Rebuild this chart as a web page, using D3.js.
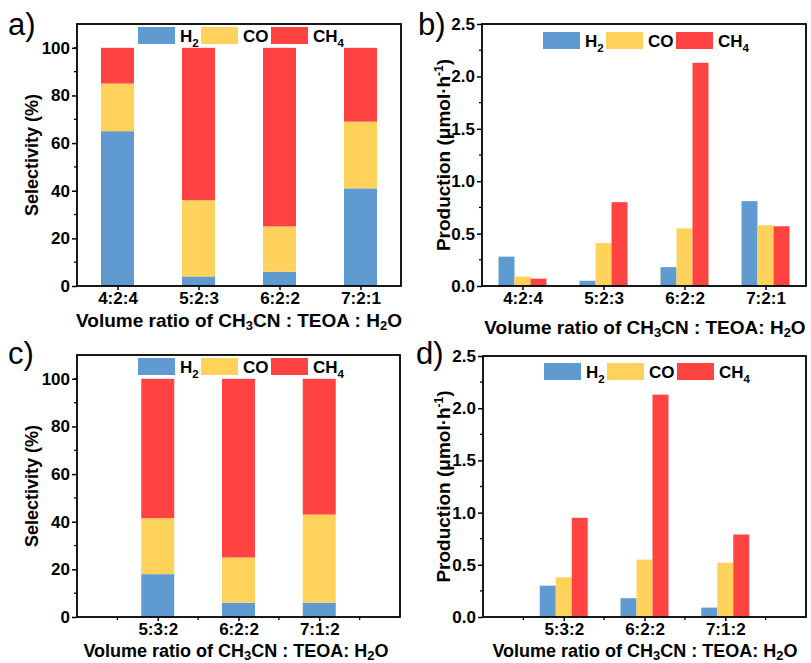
<!DOCTYPE html>
<html>
<head>
<meta charset="utf-8">
<script src="https://cdn.jsdelivr.net/npm/d3@7"></script>
<style>
  body { margin: 0; background: #fff; }
  svg { font-family: "Liberation Sans", Arial, sans-serif; }
</style>
</head>
<body>
<div id="chart"></div>
<script>
// Series (gas products) and their colours
const gases = ["H2", "CO", "CH4"];
const gasColors = ["#5f9bd0", "#ffd35b", "#ff4242"];

// a) / b) volume ratios
const ratiosAB = ["4:2:4", "5:2:3", "6:2:2", "7:2:1"];
const selH2_a  = [65, 4, 6, 41];
const selCO_a  = [20, 32, 19, 28];
const selCH4_a = [15, 64, 75, 31];
const prodH2_b  = [0.28, 0.05, 0.18, 0.81];
const prodCO_b  = [0.09, 0.41, 0.55, 0.58];
const prodCH4_b = [0.07, 0.80, 2.13, 0.57];

// c) / d) volume ratios
const ratiosCD = ["5:3:2", "6:2:2", "7:1:2"];
const selH2_c  = [18, 6, 6];
const selCO_c  = [23.5, 19, 37];
const selCH4_c = [58.5, 75, 57];
const prodH2_d  = [0.30, 0.18, 0.09];
const prodCO_d  = [0.38, 0.55, 0.52];
const prodCH4_d = [0.95, 2.13, 0.79];

// axis ticks
const selTicks = [0, 20, 40, 60, 80, 100];
const prodTicks = [0, 0.5, 1.0, 1.5, 2.0, 2.5];

const svg = d3.select("#chart").append("svg")
    .attr("width", 811)
    .attr("height", 663);

// writes "CH4" style labels with subscripts
function subText(sel, str, size) {
    const parts = str.split(/(\d)/).filter(s => s !== "");
    let sub = false;
    parts.forEach(p => {
        const isNum = /\d/.test(p);
        sel.append("tspan")
            .attr("dy", isNum && !sub ? 5 : (!isNum && sub ? -5 : 0))
            .style("font-size", isNum ? (size * 0.68) + "px" : null)
            .text(p);
        sub = isNum;
    });
}

function drawPanel(cfg) {
    const g = svg.append("g");
    const x = d3.scaleLinear().domain(cfg.xDomain).range([cfg.left, cfg.right]);
    const y = d3.scaleLinear().domain([0, cfg.yMax]).range([cfg.bottom, cfg.top]);
    const series = cfg.series;

    // bars
    if (cfg.stacked) {
        const bw = 33;
        cfg.cats.forEach((c, i) => {
            let base = 0;
            series.forEach((s, k) => {
                g.append("rect")
                    .attr("x", x(i + 1) - bw / 2)
                    .attr("width", bw)
                    .attr("y", y(base + s[i]))
                    .attr("height", y(base) - y(base + s[i]))
                    .attr("fill", gasColors[k]);
                base += s[i];
            });
        });
    } else {
        const bw = 16;
        cfg.cats.forEach((c, i) => {
            series.forEach((s, k) => {
                g.append("rect")
                    .attr("x", x(i + 1) - bw * 1.5 + k * bw)
                    .attr("width", bw)
                    .attr("y", y(s[i]))
                    .attr("height", y(0) - y(s[i]))
                    .attr("fill", gasColors[k]);
            });
        });
    }

    // y axis
    const yAxis = g.append("g")
        .attr("transform", `translate(${cfg.left},0)`)
        .call(d3.axisLeft(y).tickValues(cfg.yTicks).tickSize(5).tickPadding(2)
            .tickFormat(cfg.yFormat));
    yAxis.select(".domain").remove();
    yAxis.selectAll("line").attr("stroke-width", 1.5);
    yAxis.selectAll("text").style("font-size", "17px").style("font-weight", "bold").attr("fill", "#000");

    const minorY = cfg.yTicks.slice(0, -1).map((t, i) => (t + cfg.yTicks[i + 1]) / 2);
    if (cfg.yTicks[cfg.yTicks.length - 1] < cfg.yMax) minorY.push(cfg.yMax - (cfg.yTicks[1] - cfg.yTicks[0]) / 2);
    g.selectAll(null).data(minorY).enter().append("line")
        .attr("x1", cfg.left - 3).attr("x2", cfg.left)
        .attr("y1", d => y(d)).attr("y2", d => y(d))
        .attr("stroke", "#000").attr("stroke-width", 1.3);

    // x axis
    const xAxis = g.append("g")
        .attr("transform", `translate(0,${cfg.bottom})`)
        .call(d3.axisBottom(x).tickValues(cfg.cats.map((c, i) => i + 1)).tickSize(4).tickPadding(2)
            .tickFormat((d, i) => cfg.cats[i]));
    xAxis.select(".domain").remove();
    xAxis.selectAll("line").attr("stroke-width", 1.5);
    xAxis.selectAll("text").style("font-size", "17px").style("font-weight", "bold").attr("fill", "#000");

    const minorX = d3.range(cfg.xDomain[0] + 0.5, cfg.xDomain[1], 1).filter(v => v % 1 !== 0);
    g.selectAll(null).data(minorX).enter().append("line")
        .attr("x1", d => x(d)).attr("x2", d => x(d))
        .attr("y1", cfg.bottom).attr("y2", cfg.bottom + 3)
        .attr("stroke", "#000").attr("stroke-width", 1.3);

    // frame
    g.append("rect")
        .attr("x", cfg.left).attr("y", cfg.top)
        .attr("width", cfg.right - cfg.left).attr("height", cfg.bottom - cfg.top)
        .attr("fill", "none").attr("stroke", "#000").attr("stroke-width", 1.8);

    // legend
    const lx = [61, 124, 194];
    gases.forEach((name, k) => {
        g.append("rect")
            .attr("x", cfg.left + lx[k]).attr("y", cfg.top + cfg.legendDy)
            .attr("width", 37).attr("height", 17)
            .attr("fill", gasColors[k]);
        const t = g.append("text")
            .attr("x", cfg.left + lx[k] + 42).attr("y", cfg.top + cfg.legendDy + 15)
            .style("font-size", "17px").style("font-weight", "bold");
        subText(t, name, 17);
    });

    // panel letter
    g.append("text")
        .attr("x", cfg.labelX).attr("y", cfg.labelY)
        .style("font-size", "31px")
        .text(cfg.label);

    // y title
    const yt = g.append("text")
        .attr("transform", `translate(${cfg.yTitleX},${(cfg.top + cfg.bottom) / 2}) rotate(-90)`)
        .attr("text-anchor", "middle")
        .attr("dy", "0.35em")
        .style("font-size", cfg.yTitleSize + "px").style("font-weight", "bold");
    if (cfg.stacked) {
        yt.text("Selectivity (%)");
    } else {
        yt.append("tspan").text("Production (μmol·h");
        yt.append("tspan").attr("dy", -7).style("font-size", "12px").text("-1");
        yt.append("tspan").attr("dy", 7).text(")");
    }

    // x title
    const xt = g.append("text")
        .attr("x", cfg.xTitleX).attr("y", cfg.xTitleY)
        .attr("text-anchor", "middle")
        .style("font-size", cfg.xTitleSize + "px").style("font-weight", "bold");
    xt.append("tspan").text("Volume ratio of CH");
    xt.append("tspan").attr("dy", 3).style("font-size", "13px").text("3");
    xt.append("tspan").attr("dy", -3).text(cfg.xTitleMid);
    xt.append("tspan").attr("dy", 3).style("font-size", "13px").text("2");
    xt.append("tspan").attr("dy", -3).text("O");
}

drawPanel({
    label: "a)", labelX: 8, labelY: 35,
    left: 77, right: 401, top: 24, bottom: 286,
    xDomain: [0.5, 4.5], cats: ratiosAB,
    yMax: 110, yTicks: selTicks, yFormat: d3.format("d"),
    series: [selH2_a, selCO_a, selCH4_a], stacked: true, legendDy: 3,
    yTitleX: 32, yTitleSize: 18,
    xTitleX: 239, xTitleY: 327, xTitleSize: 19, xTitleMid: "CN : TEOA : H"
});

drawPanel({
    label: "b)", labelX: 418, labelY: 35,
    left: 482, right: 806, top: 24, bottom: 286,
    xDomain: [0.5, 4.5], cats: ratiosAB,
    yMax: 2.5, yTicks: prodTicks, yFormat: d3.format(".1f"),
    series: [prodH2_b, prodCO_b, prodCH4_b], stacked: false, legendDy: 8,
    yTitleX: 443, yTitleSize: 19,
    xTitleX: 645, xTitleY: 334, xTitleSize: 19, xTitleMid: "CN : TEOA: H"
});

drawPanel({
    label: "c)", labelX: 8, labelY: 364,
    left: 77, right: 400, top: 355, bottom: 617,
    xDomain: [0, 4], cats: ratiosCD,
    yMax: 110, yTicks: selTicks, yFormat: d3.format("d"),
    series: [selH2_c, selCO_c, selCH4_c], stacked: true, legendDy: 3,
    yTitleX: 32, yTitleSize: 18,
    xTitleX: 236, xTitleY: 657, xTitleSize: 18, xTitleMid: "CN : TEOA: H"
});

drawPanel({
    label: "d)", labelX: 416, labelY: 364,
    left: 483, right: 806, top: 356, bottom: 617,
    xDomain: [0, 4], cats: ratiosCD,
    yMax: 2.5, yTicks: prodTicks, yFormat: d3.format(".1f"),
    series: [prodH2_d, prodCO_d, prodCH4_d], stacked: false, legendDy: 7,
    yTitleX: 443, yTitleSize: 19,
    xTitleX: 645, xTitleY: 657, xTitleSize: 18, xTitleMid: "CN : TEOA: H"
});
</script>
</body>
</html>
